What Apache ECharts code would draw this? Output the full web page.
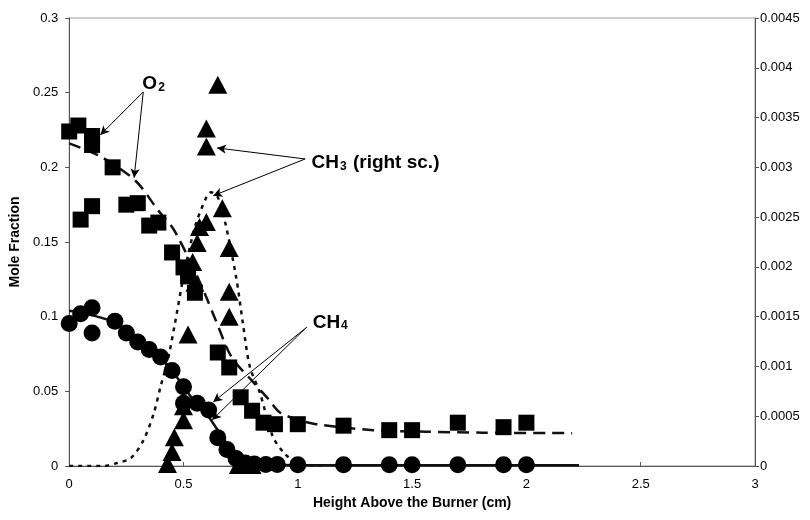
<!DOCTYPE html>
<html>
<head>
<meta charset="utf-8">
<script src="https://cdn.jsdelivr.net/npm/echarts@6/dist/echarts.min.js"></script>
<style>
  html, body { margin: 0; padding: 0; background: #fff; }
  #main { width: 810px; height: 520px; }
</style>
</head>
<body>
<div id="main"></div>
<script>
// 测量点（左轴：O2、CH4；右轴：CH3）
var o2Points = [
  [0, 0.224], [0.04, 0.228], [0.1, 0.221], [0.1, 0.215], [0.19, 0.2],
  [0.05, 0.165], [0.1, 0.174], [0.25, 0.175], [0.3, 0.176], [0.35, 0.161],
  [0.39, 0.163], [0.45, 0.143], [0.5, 0.133], [0.52, 0.127], [0.55, 0.116],
  [0.65, 0.076], [0.7, 0.066], [0.75, 0.046], [0.8, 0.037], [0.85, 0.029],
  [0.9, 0.028], [1.0, 0.028], [1.2, 0.027], [1.4, 0.024], [1.5, 0.024],
  [1.7, 0.029], [1.9, 0.026], [2.0, 0.029]
];
var ch4Points = [
  [0, 0.0955], [0.05, 0.102], [0.1, 0.106], [0.1, 0.089], [0.2, 0.097],
  [0.25, 0.089], [0.3, 0.083], [0.35, 0.078], [0.4, 0.073], [0.45, 0.064],
  [0.5, 0.053], [0.5, 0.042], [0.56, 0.042], [0.61, 0.0375], [0.65, 0.019],
  [0.69, 0.011], [0.73, 0.005], [0.77, 0.002], [0.81, 0.0013], [0.86, 0.001],
  [0.91, 0.001], [1.0, 0.0008], [1.2, 0.0008], [1.4, 0.0008], [1.5, 0.0008],
  [1.7, 0.0008], [1.9, 0.0008], [2.0, 0.0008]
];
var ch3Points = [
  [0.43, 0.00002], [0.45, 0.00014], [0.46, 0.00029], [0.5, 0.00046],
  [0.5, 0.0006], [0.52, 0.00132], [0.55, 0.00184], [0.54, 0.00205],
  [0.56, 0.00224], [0.57, 0.0024], [0.6, 0.00245], [0.6, 0.00321],
  [0.6, 0.00339], [0.65, 0.00383], [0.67, 0.00259], [0.7, 0.00219],
  [0.7, 0.00175], [0.7, 0.0015], [0.74, 0.00001], [0.77, 0.00001], [0.8, 0.00001]
];
// 模型曲线
var o2Model = [
  [0, 0.216], [0.14, 0.207], [0.29, 0.191], [0.39, 0.171], [0.45, 0.16],
  [0.48, 0.152], [0.52, 0.14], [0.56, 0.127], [0.6, 0.113], [0.64, 0.098],
  [0.71, 0.073], [0.8, 0.057], [0.87, 0.045], [0.92, 0.036], [1.0, 0.031],
  [1.08, 0.028], [1.33, 0.024], [1.56, 0.023], [1.81, 0.0223], [2.2, 0.022]
];
var ch4Model = [
  [0, 0.104], [0.1, 0.101], [0.2, 0.096], [0.3, 0.085], [0.4, 0.072],
  [0.45, 0.064], [0.5, 0.053], [0.55, 0.043], [0.6, 0.035], [0.65, 0.024],
  [0.7, 0.013], [0.75, 0.006], [0.8, 0.003], [0.9, 0.001], [1.0, 0.0005],
  [2.23, 0.0005]
];
var ch3Model = [
  [0, 0], [0.15, 0], [0.21, 0.00003], [0.27, 0.00008], [0.325, 0.00026],
  [0.37, 0.00053], [0.4, 0.0008], [0.43, 0.00105], [0.46, 0.0014],
  [0.5, 0.0019], [0.55, 0.0024], [0.6, 0.0027], [0.62, 0.00275],
  [0.65, 0.0027], [0.68, 0.00247], [0.73, 0.0019], [0.76, 0.00143],
  [0.79, 0.001], [0.835, 0.00073], [0.89, 0.0003], [0.94, 0.00013],
  [1.0, 0.00003], [1.1, 0]
];
// 标注：文字位置与箭头（左轴坐标）
var notes = [
  { text: "{b|O}{s|2}", at: [0.32, 0.257], from: [[0.324, 0.2505], [0.324, 0.2505]], to: [[0.136, 0.2217], [0.284, 0.193]] },
  { text: "{b|CH}{s|3}{b| (right sc.)}", at: [1.06, 0.204], from: [[1.032, 0.2056], [1.032, 0.2056]], to: [[0.647, 0.213], [0.63, 0.181]] },
  { text: "{b|CH}{s|4}", at: [1.065, 0.097], from: [[1.04, 0.093], [1.03, 0.0917]], to: [[0.63, 0.0429], [0.625, 0.0308]] }
];

var arrowData = [];
notes.forEach(function (n) {
  for (var i = 0; i < n.to.length; i++) {
    arrowData.push([{ coord: n.from[i] }, { coord: n.to[i] }]);
  }
});

var font = "Liberation Sans";
var axisColor = "#555";
var myChart = echarts.init(document.getElementById("main"));
myChart.setOption({
  animation: false,
  textStyle: { fontFamily: font },
  grid: { left: 69, right: 55, top: 18, bottom: 54, show: true, borderColor: "#999", borderWidth: 1 },
  xAxis: {
    type: "value", min: 0, max: 3, interval: 0.5,
    name: "Height Above the Burner (cm)", nameLocation: "middle", nameGap: 30,
    nameTextStyle: { fontFamily: font, fontSize: 14, fontWeight: "bold", color: "#000" },
    axisLine: { lineStyle: { color: axisColor } },
    axisTick: { inside: true, length: 4, lineStyle: { color: axisColor } },
    axisLabel: { fontSize: 13, color: "#000", margin: 12 },
    splitLine: { show: false }
  },
  yAxis: [
    {
      type: "value", min: 0, max: 0.3, interval: 0.05,
      name: "Mole Fraction", nameLocation: "middle", nameGap: 46,
      nameTextStyle: { fontFamily: font, fontSize: 14, fontWeight: "bold", color: "#000" },
      axisLine: { show: true, lineStyle: { color: axisColor } },
      axisTick: { show: true, length: 4, lineStyle: { color: axisColor } },
      axisLabel: { fontSize: 13, color: "#000", margin: 11 },
      splitLine: { show: false }
    },
    {
      type: "value", min: 0, max: 0.0045, interval: 0.0005, position: "right",
      axisLine: { show: true, lineStyle: { color: axisColor } },
      axisTick: { show: true, length: 4, lineStyle: { color: axisColor } },
      axisLabel: {
        fontSize: 13, color: "#000", margin: 5,
        formatter: function (v) { return String(+v.toFixed(4)); }
      },
      splitLine: { show: false }
    }
  ],
  series: [
    {
      name: "O2 model", type: "line", data: o2Model, smooth: 0.3, showSymbol: false,
      lineStyle: { color: "#111", width: 2.5, type: [12, 7] }, z: 2
    },
    {
      name: "CH4 model", type: "line", data: ch4Model, smooth: 0.3, showSymbol: false,
      lineStyle: { color: "#111", width: 2.5 }, z: 2
    },
    {
      name: "CH3 model", type: "line", yAxisIndex: 1, data: ch3Model, smooth: 0.3, showSymbol: false,
      lineStyle: { color: "#111", width: 2.5, type: [4, 5] }, z: 2
    },
    {
      name: "O2", type: "scatter", data: o2Points, symbol: "rect", symbolSize: 16,
      itemStyle: { color: "#000", opacity: 1 }, z: 3,
      markLine: {
        silent: true, symbol: ["none", "arrow"], symbolSize: [7, 9],
        lineStyle: { color: "#000", width: 1, type: "solid" },
        label: { show: false }, data: arrowData
      }
    },
    {
      name: "CH4", type: "scatter", data: ch4Points, symbol: "circle", symbolSize: 17,
      itemStyle: { color: "#000", opacity: 1 }, z: 3
    },
    {
      name: "CH3", type: "scatter", yAxisIndex: 1, data: ch3Points, symbol: "triangle", symbolSize: [19, 18],
      itemStyle: { color: "#000", opacity: 1 }, z: 4
    }
  ]
});

// 标注文字
var graphics = notes.map(function (n) {
  var p = myChart.convertToPixel({ xAxisIndex: 0, yAxisIndex: 0 }, n.at);
  return {
    type: "text", x: p[0], y: p[1], z: 10,
    style: {
      text: n.text, verticalAlign: "middle",
      rich: {
        b: { fontFamily: font, fontSize: 19, fontWeight: "bold", fill: "#000", verticalAlign: "bottom", lineHeight: 22 },
        s: { fontFamily: font, fontSize: 12, fontWeight: "bold", fill: "#000", verticalAlign: "bottom", lineHeight: 22, padding: [6, 1, 0, 1] }
      }
    }
  };
});
myChart.setOption({ graphic: graphics });
</script>
</body>
</html>
